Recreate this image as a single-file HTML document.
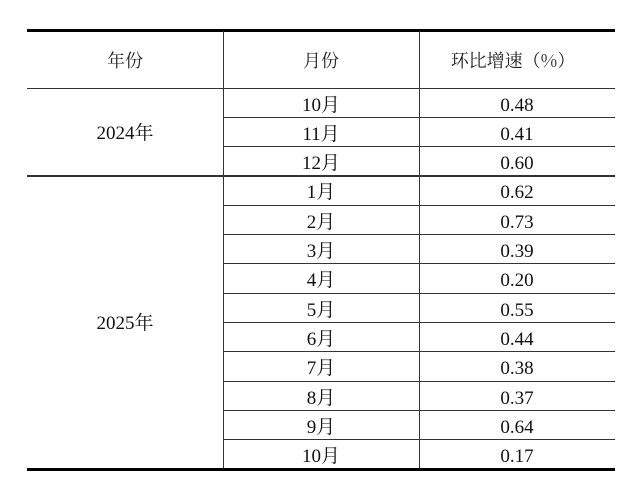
<!DOCTYPE html>
<html><head><meta charset="utf-8"><style>
html,body{margin:0;padding:0;background:#fff;width:640px;height:486px;overflow:hidden;position:relative;}
.l{position:absolute;background:#333;}
.k{position:absolute;background:#000;}
.t{position:absolute;font-family:"Liberation Serif","Times New Roman",Times,"Noto Serif CJK SC",serif;font-size:19px;color:#111;line-height:20px;height:20px;text-align:center;white-space:nowrap;}
.h{position:absolute;font-family:"Noto Serif CJK SC","Liberation Serif",serif;font-size:18px;color:#222;line-height:20px;height:20px;text-align:center;white-space:nowrap;}
</style></head><body>
<div class="k" style="left:27px;top:28.5px;width:588px;height:3px"></div>
<div class="k" style="left:27px;top:467.5px;width:588px;height:3px"></div>
<div class="l" style="left:222.5px;top:31px;width:1.2px;height:437px"></div>
<div class="l" style="left:418.5px;top:31px;width:1.2px;height:437px"></div>
<div class="l" style="left:27px;top:87.7px;width:588px;height:1.2px"></div>
<div class="l" style="left:27px;top:175.4px;width:588px;height:1.2px"></div>
<div class="l" style="left:223px;top:117px;width:392px;height:1.2px"></div>
<div class="l" style="left:223px;top:146.3px;width:392px;height:1.2px"></div>
<div class="l" style="left:223px;top:204.7px;width:392px;height:1.2px"></div>
<div class="l" style="left:223px;top:234px;width:392px;height:1.2px"></div>
<div class="l" style="left:223px;top:263.3px;width:392px;height:1.2px"></div>
<div class="l" style="left:223px;top:292.6px;width:392px;height:1.2px"></div>
<div class="l" style="left:223px;top:321.9px;width:392px;height:1.2px"></div>
<div class="l" style="left:223px;top:351.2px;width:392px;height:1.2px"></div>
<div class="l" style="left:223px;top:380.5px;width:392px;height:1.2px"></div>
<div class="l" style="left:223px;top:409.8px;width:392px;height:1.2px"></div>
<div class="l" style="left:223px;top:439.1px;width:392px;height:1.2px"></div>

<div class="h" style="left:27px;width:196px;top:50px">年份</div>
<div class="h" style="left:223px;width:196px;top:50px">月份</div>
<div class="h" style="left:415px;width:196px;top:50px">环比增速（%）</div>

<div class="t" style="left:27px;width:196px;top:124px">2024年</div>
<div class="t" style="left:27px;width:196px;top:314px">2025年</div>

<div class="t" style="left:223px;width:196px;top:95.5px">10月</div><div class="t" style="left:419px;width:196px;top:95.5px">0.48</div>
<div class="t" style="left:223px;width:196px;top:124.8px">11月</div><div class="t" style="left:419px;width:196px;top:124.8px">0.41</div>
<div class="t" style="left:223px;width:196px;top:154.1px">12月</div><div class="t" style="left:419px;width:196px;top:154.1px">0.60</div>
<div class="t" style="left:223px;width:196px;top:183.4px">1月</div><div class="t" style="left:419px;width:196px;top:183.4px">0.62</div>
<div class="t" style="left:223px;width:196px;top:212.7px">2月</div><div class="t" style="left:419px;width:196px;top:212.7px">0.73</div>
<div class="t" style="left:223px;width:196px;top:242px">3月</div><div class="t" style="left:419px;width:196px;top:242px">0.39</div>
<div class="t" style="left:223px;width:196px;top:271.3px">4月</div><div class="t" style="left:419px;width:196px;top:271.3px">0.20</div>
<div class="t" style="left:223px;width:196px;top:300.6px">5月</div><div class="t" style="left:419px;width:196px;top:300.6px">0.55</div>
<div class="t" style="left:223px;width:196px;top:329.9px">6月</div><div class="t" style="left:419px;width:196px;top:329.9px">0.44</div>
<div class="t" style="left:223px;width:196px;top:359.2px">7月</div><div class="t" style="left:419px;width:196px;top:359.2px">0.38</div>
<div class="t" style="left:223px;width:196px;top:388.5px">8月</div><div class="t" style="left:419px;width:196px;top:388.5px">0.37</div>
<div class="t" style="left:223px;width:196px;top:417.8px">9月</div><div class="t" style="left:419px;width:196px;top:417.8px">0.64</div>
<div class="t" style="left:223px;width:196px;top:447.1px">10月</div><div class="t" style="left:419px;width:196px;top:447.1px">0.17</div>
</body></html>
